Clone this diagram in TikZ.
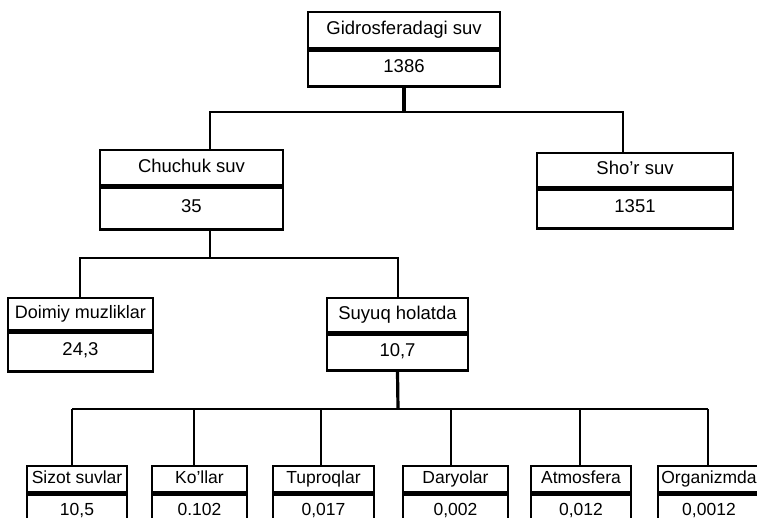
\documentclass[tikz,border=0pt]{standalone}
\usepackage{fontspec}
\setmainfont{Liberation Sans}
\tikzset{
  box/.style={draw, line width=2.4pt, inner sep=0pt, text height=0.72em, text depth=0pt, font=\fontsize{18.5}{18.5}\selectfont},
  title/.style={box, text height=0.9em},
  smallbox/.style={box, font=\fontsize{17.5}{17.5}\selectfont},
  smalltitle/.style={smallbox, text height=0.85em},
  link/.style={line width=2pt},
  trunk/.style={line width=3.2pt}
}
\begin{document}
\begin{tikzpicture}[x=1pt,y=1pt]
			\useasboundingbox (0,0) rectangle (757,-518);
			\clip (0,0) rectangle (757,-518);
			\node[title, minimum width=192pt, minimum height=36pt, anchor=north] (gidro) at (404,-11) {Gidrosferadagi suv};
			\node[box, minimum width=192pt, minimum height=36pt, anchor=north] (gidroval) at (gidro.south) {1386};
			\node[title, minimum width=183pt, minimum height=35pt, anchor=north] (chuchuk) at (191.5,-149) {Chuchuk suv};
			\node[box, minimum width=183pt, minimum height=42pt, anchor=north] (chuchukval) at (chuchuk.south) {35};
			\node[title, minimum width=196pt, minimum height=34pt, anchor=north] (shor) at (635,-152) {Sho'r suv};
			\node[box, minimum width=196pt, minimum height=39pt, anchor=north] (shorval) at (shor.south) {1351};
			\node[title, minimum width=145pt, minimum height=32pt, anchor=north, font=\fontsize{18}{18}\selectfont] (muz) at (80.5,-297) {Doimiy muzliklar};
			\node[box, minimum width=145pt, minimum height=39pt, anchor=north] (muzval) at (muz.south) {24,3};
			\node[title, minimum width=141pt, minimum height=34pt, anchor=north] (suyuq) at (397.5,-297) {Suyuq holatda};
			\node[box, minimum width=141pt, minimum height=36pt, anchor=north] (suyuqval) at (suyuq.south) {10,7};
			\node[smalltitle, minimum width=100pt, minimum height=26pt, anchor=north] (sizot) at (77,-465) {Sizot suvlar};
			\node[smallbox, minimum width=100pt, minimum height=34pt, anchor=north] (sizotval) at (sizot.south) {10,5};
			\node[smalltitle, minimum width=95pt, minimum height=26pt, anchor=north] (kol) at (199.5,-465) {Ko'llar};
			\node[smallbox, minimum width=95pt, minimum height=34pt, anchor=north] (kolval) at (kol.south) {0.102};
			\node[smalltitle, minimum width=101pt, minimum height=26pt, anchor=north] (tuproq) at (323.5,-465) {Tuproqlar};
			\node[smallbox, minimum width=101pt, minimum height=34pt, anchor=north] (tuproqval) at (tuproq.south) {0,017};
			\node[smalltitle, minimum width=105pt, minimum height=26pt, anchor=north] (daryo) at (455.5,-465) {Daryolar};
			\node[smallbox, minimum width=105pt, minimum height=34pt, anchor=north] (daryoval) at (daryo.south) {0,002};
			\node[smalltitle, minimum width=100pt, minimum height=26pt, anchor=north] (atmos) at (581,-465) {Atmosfera};
			\node[smallbox, minimum width=100pt, minimum height=34pt, anchor=north] (atmosval) at (atmos.south) {0,012};
			\node[smalltitle, minimum width=102pt, minimum height=26pt, anchor=north] (organ) at (709,-465) {Organizmda};
			\node[smallbox, minimum width=102pt, minimum height=34pt, anchor=north] (organval) at (organ.south) {0,0012};
			\path (404,-112) coordinate (top);
			\path (210,-112) coordinate (topL);
			\path (623,-112) coordinate (topR);
			\path (80,-258) coordinate (freshL);
			\path (398,-258) coordinate (freshR);
			\path (398,-409) coordinate (liq);
			\path (72,-409) coordinate (L1);
			\path (194,-409) coordinate (L2);
			\path (321,-409) coordinate (L3);
			\path (451,-409) coordinate (L4);
			\path (580,-409) coordinate (L5);
			\path (708,-409) coordinate (L6);
			\draw[trunk] (gidroval.south) -- (top);
			\draw[link] (topL |- chuchuk.north) -- (topL) -- (topR) -- (topR |- shor.north);
			\draw[link] (topL |- chuchukval.south) -- (topL |- freshL);
			\draw[link] (freshL |- muz.north) -- (freshL) -- (freshR) -- (freshR |- suyuq.north);
			\draw[trunk] (suyuqval.south) -- (liq);
			\draw[link] (L1) -- (L6);
			\draw[link] (L1) -- (L1 |- sizot.north);
			\draw[link] (L2) -- (L2 |- kol.north);
			\draw[link] (L3) -- (L3 |- tuproq.north);
			\draw[link] (L4) -- (L4 |- daryo.north);
			\draw[link] (L5) -- (L5 |- atmos.north);
			\draw[link] (L6) -- (L6 |- organ.north);
		\end{tikzpicture}
\end{document}
